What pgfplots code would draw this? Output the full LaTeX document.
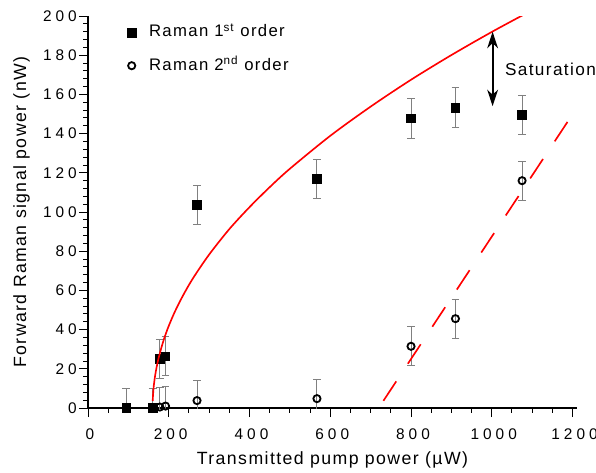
\documentclass[border=0pt]{standalone}
\usepackage{fontspec}
\setmainfont{Liberation Sans}[LetterSpace=8]
\newfontfamily\tickfont{Liberation Sans}[LetterSpace=26]
\usepackage{pgfplots}
\pgfplotsset{compat=1.18}
\usetikzlibrary{arrows.meta}
\begin{document}
\begin{tikzpicture}
\begin{axis}[
name=ax,
scale only axis,width=298.4pt,height=239.2pt,
xmin=0,xmax=1211,ymin=0,ymax=200,
axis x line*=bottom,axis y line*=left,
clip mode=individual,
xtick={0,200,...,1200},ytick={0,20,...,200},
minor x tick num=3,minor y tick num=4,
tick align=outside,
major tick length=5.5pt,minor tick length=3pt,
tick style={black,line width=0.6pt},
axis line style={line width=0.8pt},
/pgf/number format/assume math mode=true,
/pgf/number format/1000 sep={},
ticklabel style={font=\fontsize{9.4}{11}\tickfont},
xticklabel style={yshift=-3.5pt,xshift=1.2pt},
yticklabel style={xshift=2.2pt},
xlabel={Transmitted pump power (µW)},
ylabel={Forward Raman signal power (nW)},
label style={font=\fontsize{10.8}{12}\selectfont},
xlabel style={at={(axis description cs:0.5,-0.133)},anchor=center},
ylabel style={at={(axis description cs:-0.136,0.5)},anchor=center},
legend image code/.code={\draw[#1] plot coordinates {(0pt,-0.9pt)};},
legend style={draw=none,fill=none,inner sep=0pt,
  at={(axis description cs:0.08,0.982)},anchor=north west,
  row sep=10pt,column sep=8pt,
  nodes={inner sep=0pt},
  font=\fontsize{10.2}{12}\selectfont},
legend cell align=left,
error bars/error bar style={gray,line width=0.6pt},
error bars/error mark options={gray,line width=0.6pt,mark size=2.4pt,rotate=90},
]
\addplot[only marks,mark=square*,mark size=2.6pt,black,
  error bars/.cd,y dir=both,y explicit]
coordinates {
(95,0) +- (0,10)
(160,0) +- (0,10)
(178,25) +- (0,10)
(192,26.5) +- (0,10)
(270,103.6) +- (0,10)
(567,117) +- (0,10)
(800,147.7) +- (0,10)
(910,153.3) +- (0,10)
(1075,149.5) +- (0,10)
};
\addlegendentry{Raman 1\textsuperscript{st} order}
\addplot[only marks,mark=o,mark size=2.2pt,black,mark options={line width=1.1pt},
  error bars/.cd,y dir=both,y explicit]
coordinates {
(178,0.5) +- (0,10)
(192,1) +- (0,10)
(270,3.8) +- (0,10)
(567,4.8) +- (0,10)
(800,31.5) +- (0,10)
(910,45.6) +- (0,10)
(1075,116) +- (0,10)
};
\addlegendentry{Raman 2\textsuperscript{nd} order}
\addplot[red,line width=1pt,smooth,forget plot] coordinates {
(160.3,3.6)(161,6.6)(163,11.5)(166,16.2)(170,20.9)(175,25.6)(182,31.0)
(190,36.3)(200,41.9)(215,49.1)(235,57.3)(260,66.2)(300,78.3)(350,91.3)
(400,102.5)(450,112.7)(500,122.1)(600,138.9)(700,153.8)(800,167.5)
(900,180.1)(1000,191.9)(1090,201.9)};
\addplot[red,line width=1pt,dash pattern=on 14.2pt off 12.9pt,forget plot] coordinates {
(731.6,3.7)(1193,147.7)};
\draw[line width=1.3pt,{Stealth[length=10pt,width=6.5pt,inset=3pt]}-{Stealth[length=10pt,width=6.5pt,inset=3pt]}]
  (axis cs:1002,192) -- (axis cs:1002,154);
\node[anchor=west,inner sep=0pt,font=\fontsize{10.5}{12}\selectfont] at (axis cs:1032,172.6) {Saturation};
\end{axis}
\pgfresetboundingbox
\path[use as bounding box] ([xshift=-53.7pt,yshift=-39.5pt]ax.south west)
  rectangle ([xshift=11.6pt,yshift=9.8pt]ax.north east);
\end{tikzpicture}
\end{document}
